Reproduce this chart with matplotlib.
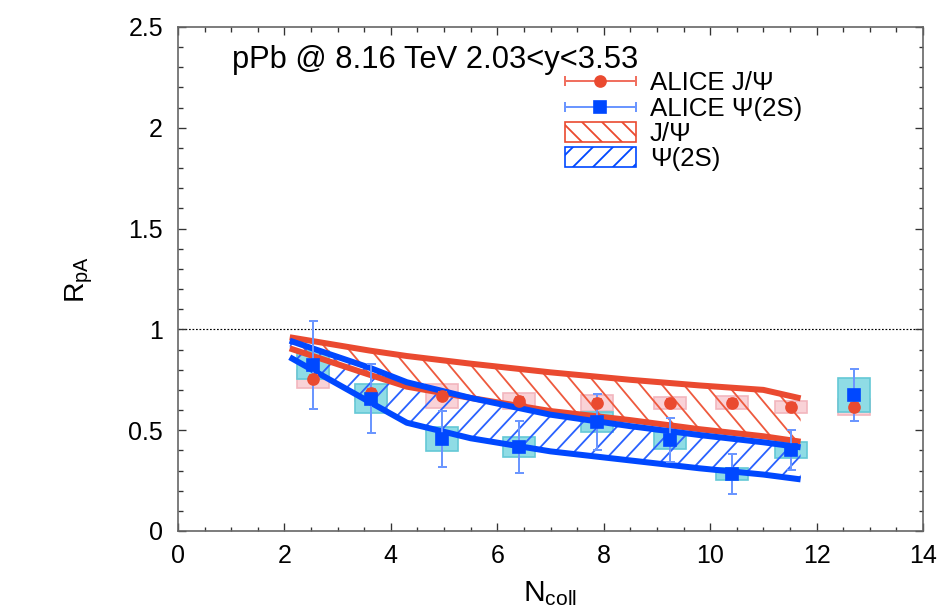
import matplotlib
matplotlib.use('Agg')
import matplotlib.pyplot as plt
import numpy as np
from matplotlib.lines import Line2D
from matplotlib.patches import Patch
from matplotlib.legend_handler import HandlerBase
from matplotlib.ticker import MultipleLocator, FormatStrFormatter

plt.rcParams['font.family'] = ['Liberation Sans', 'DejaVu Sans']
plt.rcParams['mathtext.default'] = 'regular'
plt.rcParams['hatch.linewidth'] = 1.1

RED = '#ea4a30'
BLUE = '#0048ff'

# ALICE points vs Ncoll
ncoll = [2.54, 3.62, 4.96, 6.40, 7.87, 9.25, 10.41, 11.52, 12.71]
jpsi = [0.754, 0.683, 0.670, 0.645, 0.633, 0.633, 0.636, 0.617, 0.617]
jpsi_stat = [0.02, 0.02, 0.02, 0.02, 0.02, 0.02, 0.02, 0.02, 0.02]
jpsi_sys = [0.045, 0.04, 0.058, 0.04, 0.04, 0.03, 0.033, 0.03, 0.04]
psi2s = [0.823, 0.656, 0.455, 0.418, 0.542, 0.451, 0.281, 0.402, 0.675]
psi2s_stat = [0.22, 0.171, 0.14, 0.128, 0.14, 0.108, 0.099, 0.099, 0.13]
psi2s_sys = [0.07, 0.073, 0.06, 0.05, 0.05, 0.042, 0.03, 0.04, 0.083]

# model bands
band_x = [2.1, 3.6, 4.3, 5.5, 7.0, 8.5, 9.8, 11.0, 11.7]
jpsi_hi = [0.961, 0.895, 0.868, 0.83, 0.787, 0.75, 0.722, 0.70, 0.658]
jpsi_lo = [0.906, 0.775, 0.716, 0.66, 0.595, 0.55, 0.505, 0.47, 0.443]
psi2s_hi = [0.944, 0.81, 0.738, 0.66, 0.577, 0.52, 0.476, 0.44, 0.415]
psi2s_lo = [0.862, 0.64, 0.537, 0.46, 0.395, 0.35, 0.311, 0.28, 0.256]


class HandlerHErr(HandlerBase):
    """Horizontal bar with end caps and a marker in the middle."""
    def create_artists(self, legend, orig, xd, yd, width, height, fontsize, trans):
        y = height / 2 - yd
        x0, x1 = -xd, width - xd
        ec = orig.get_markeredgecolor()
        bar = Line2D([x0, x1], [y, y], color=orig.get_color(), lw=1.2, transform=trans)
        caps = Line2D([x0, x1], [y, y], ls='none', marker='|', ms=6,
                      mew=1.2, color=orig.get_color(), transform=trans)
        mk = Line2D([(x0 + x1) / 2], [y], ls='none', marker=orig.get_marker(),
                    ms=orig.get_markersize(), color=ec, mec=ec, transform=trans)
        return [bar, caps, mk]


def hatch_band(ax, x, lo, hi, color, sign, step, angle=45):
    """Fill between lo and hi with diagonal lines clipped to the band."""
    poly = ax.fill_between(x, lo, hi, facecolor='none', lw=0, zorder=2)
    p0 = ax.transData.transform((0, 0))
    p1 = ax.transData.transform((1, 1))
    slope = np.tan(np.radians(angle)) * (p1[0] - p0[0]) / (p1[1] - p0[1])
    clip = poly.get_paths()[0]
    xs = np.array([min(x) - 1, max(x) + 1])
    ymid = 0.5 * (min(lo) + max(hi))
    for c in np.arange(min(x) - 4, max(x) + 4, step):
        ln, = ax.plot(xs, ymid + sign * slope * (xs - c), color=color, lw=1.1, zorder=2)
        ln.set_clip_path(clip, ax.transData)


fig = plt.figure(figsize=(944 / 120, 615 / 120), dpi=120)
ax = fig.add_axes([178 / 944, 1 - 531 / 615, 745 / 944, 504 / 615])
ax.set_xlim(0, 14)
ax.set_ylim(0, 2.5)

ax.axhline(1.0, color='black', lw=0.7, ls=(0, (1.5, 1.5)), zorder=1)

# systematic boxes
ax.bar(ncoll, [2 * s for s in jpsi_sys], bottom=[v - s for v, s in zip(jpsi, jpsi_sys)],
       width=0.6, color='#f9d2d7', edgecolor='#f2b6be', lw=1.0, zorder=1.5)
ax.bar(ncoll, [2 * s for s in psi2s_sys], bottom=[v - s for v, s in zip(psi2s, psi2s_sys)],
       width=0.6, color='#8fdce5', edgecolor='#64c8d6', lw=1.0, zorder=1.6)

# hatched bands and their edges
hatch_band(ax, band_x, jpsi_lo, jpsi_hi, '#ee5a3e', -1, 0.41, angle=50)
hatch_band(ax, band_x, psi2s_lo, psi2s_hi, '#2a62ff', 1, 0.36, angle=47)
for yy, c in [(jpsi_hi, RED), (jpsi_lo, RED), (psi2s_hi, BLUE), (psi2s_lo, BLUE)]:
    ax.plot(band_x, yy, color=c, lw=3.6, solid_capstyle='butt', zorder=3)

# data with stat errors
ax.errorbar(ncoll, jpsi, yerr=jpsi_stat, fmt='none', ecolor='#f07060',
            elinewidth=1.2, capsize=2.7, capthick=1.2, zorder=4)
ax.plot(ncoll, jpsi, 'o', color=RED, ms=6.6, zorder=5)
ax.errorbar(ncoll, psi2s, yerr=psi2s_stat, fmt='none', ecolor='#6b96ff',
            elinewidth=1.2, capsize=2.7, capthick=1.2, zorder=4)
ax.plot(ncoll, psi2s, 's', color=BLUE, ms=7.2, zorder=6)

ax.set_xlim(0, 14)
ax.set_ylim(0, 2.5)
ax.xaxis.set_major_locator(MultipleLocator(2))
ax.xaxis.set_minor_locator(MultipleLocator(0.5))
ax.yaxis.set_major_locator(MultipleLocator(0.5))
ax.yaxis.set_minor_locator(MultipleLocator(0.1))
ax.yaxis.set_major_formatter(FormatStrFormatter('%g'))
ax.tick_params(which='both', direction='in', top=True, right=True,
               color='#333333', width=0.8, labelsize=15)
ax.tick_params(which='major', length=4.8)
ax.tick_params(which='minor', length=2.7)
ax.tick_params(axis='y', pad=9)
ax.tick_params(axis='x', pad=8)
for sp in ax.spines.values():
    sp.set_color('#666666')
    sp.set_linewidth(1.0)

ax.set_xlabel('$N_{coll}$', fontsize=18, labelpad=6.5)
ax.set_ylabel('$R_{pA}$', fontsize=17, labelpad=20)

ax.text(0.0725, 0.919, 'pPb @ 8.16 TeV 2.03<y<3.53', transform=ax.transAxes,
        fontsize=18.5, va='baseline', ha='left')

handles = [
    Line2D([], [], color='#f07060', marker='o', ms=6.6, mec=RED),
    Line2D([], [], color='#6b96ff', marker='s', ms=7.2, mec=BLUE),
    Patch(facecolor='white', edgecolor=RED, hatch='\\\\', lw=1.0),
    Patch(facecolor='white', edgecolor=BLUE, hatch='//', lw=1.0),
]
labels = ['ALICE J/Ψ', 'ALICE Ψ(2S)', 'J/Ψ', 'Ψ(2S)']
ax.legend(handles, labels, loc='upper left', bbox_to_anchor=(0.519, 0.912),
          frameon=False, fontsize=15.5, borderpad=0, borderaxespad=0,
          handlelength=2.75, handleheight=0.8, handletextpad=0.55, labelspacing=0.05,
          handler_map={Line2D: HandlerHErr()})

fig.savefig('out.png', dpi=120)
